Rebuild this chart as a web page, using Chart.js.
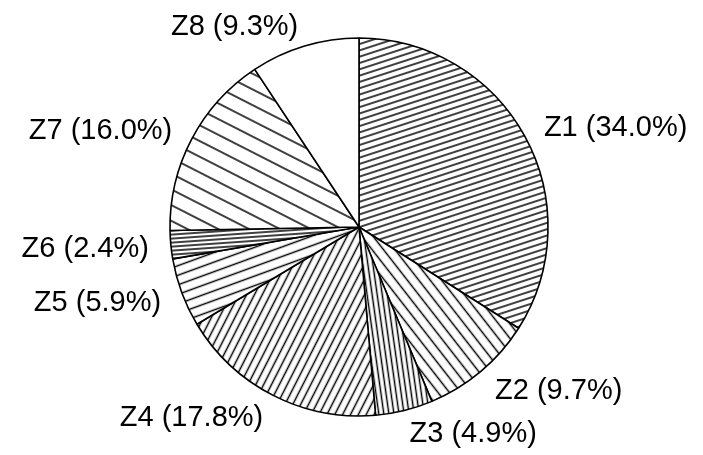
<!DOCTYPE html>
<html>
<head>
<meta charset="utf-8">
<script src="https://cdn.jsdelivr.net/npm/chart.js@4"></script>
<style>
  html, body { margin: 0; padding: 0; background: #fff; }
  #wrap { width: 703px; height: 455px; }
</style>
</head>
<body>
<div id="wrap"><canvas id="c" width="703" height="455"></canvas></div>
<script>
// ---- data ----
const categories = ['Z1', 'Z2', 'Z3', 'Z4', 'Z5', 'Z6', 'Z7', 'Z8'];
const shares = [34.0, 9.7, 4.9, 17.8, 5.9, 2.4, 16.0, 9.3];

// ---- styles (hatch angle in degrees, spacing in px; null = plain white) ----
const hatchAngles = [-18, 52, 82, -63, -20, -4, 27, null];
const hatchSpacing = [6, 9, 5, 7, 9, 4, 14, null];

const canvas = document.getElementById('c');
const ctx = canvas.getContext('2d');

function makeHatch(angle, spacing) {
  if (angle === null) return '#ffffff';
  const t = document.createElement('canvas');
  t.width = 32; t.height = spacing;
  const tc = t.getContext('2d');
  tc.fillStyle = '#ffffff';
  tc.fillRect(0, 0, t.width, t.height);
  tc.strokeStyle = '#000';
  tc.lineWidth = 1.5;
  tc.beginPath();
  tc.moveTo(0, spacing / 2);
  tc.lineTo(t.width, spacing / 2);
  tc.stroke();
  const p = ctx.createPattern(t, 'repeat');
  p.setTransform(new DOMMatrix().rotateSelf(angle));
  return p;
}

const fills = hatchAngles.map((a, i) => makeHatch(a, hatchSpacing[i]));

const labelPlugin = {
  id: 'sliceLabels',
  afterDatasetsDraw(chart) {
    const meta = chart.getDatasetMeta(0);
    const c = chart.ctx;
    c.save();
    c.fillStyle = '#000';
    c.font = '29px "Liberation Sans", Arial, sans-serif';
    c.textBaseline = 'alphabetic';
    meta.data.forEach((arc, i) => {
      const p = arc.getProps(['x', 'y', 'startAngle', 'endAngle', 'outerRadius'], true);
      const mid = (p.startAngle + p.endAngle) / 2;
      const r = p.outerRadius + 22;
      const lx = p.x + Math.cos(mid) * r;
      const ly = p.y + Math.sin(mid) * r;
      c.textAlign = Math.cos(mid) >= 0 ? 'left' : 'right';
      const txt = categories[i] + ' (' + shares[i].toFixed(1) + '%)';
      c.fillText(txt, lx, ly + 10.5);
    });
    c.restore();
  }
};

new Chart(canvas, {
  type: 'pie',
  data: {
    labels: categories,
    datasets: [{
      data: shares,
      backgroundColor: fills,
      borderColor: '#000',
      borderWidth: 1.6,
      radius: 189
    }]
  },
  options: {
    responsive: false,
    animation: false,
    events: [],
    layout: { padding: { left: 15, right: 0, top: 0, bottom: 1 } },
    plugins: {
      legend: { display: false },
      tooltip: { enabled: false }
    }
  },
  plugins: [labelPlugin]
});
</script>
</body>
</html>
